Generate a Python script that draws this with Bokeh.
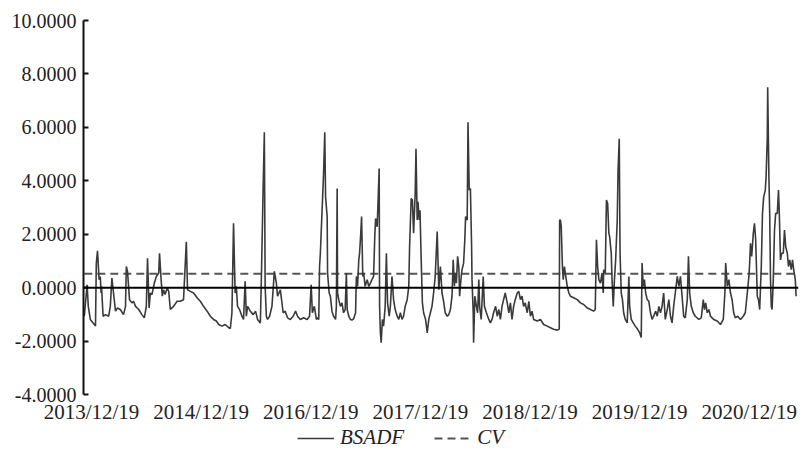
from bokeh.plotting import figure
from bokeh.layouts import column
from bokeh.models import (Range1d, Span, FixedTicker, PrintfTickFormatter, Legend, LegendItem)
from bokeh.embed import file_html
from bokeh.resources import INLINE

# observation index (trading days since 2013/12/19 window start) and BSADF statistic
obs = [0, 7, 10, 15, 28, 30, 33, 37, 40, 42, 43, 47, 53, 61, 65, 69, 73, 78, 83, 90, 98, 103, 105, 108, 113, 119,
       123, 128, 136, 144, 150, 155, 158, 162, 165, 169, 175, 180, 186, 188, 192, 195, 198, 202, 207, 211, 215, 223,
       232, 240, 248, 255, 258, 265, 273, 282, 290, 298, 307, 315, 323, 330, 336, 344, 352, 361, 365, 369, 373, 377,
       380, 383, 388, 394, 398, 402, 405, 408, 415, 422, 428, 433, 440, 443, 447, 450, 452, 455, 458, 463, 469, 475,
       480, 483, 490, 497, 502, 508, 515, 522, 528, 533, 540, 548, 557, 563, 567, 570, 575, 580, 583, 586, 588,
       590, 594, 598, 601, 603, 607, 608, 612, 615, 619, 623, 628, 630, 632, 633, 636, 640, 644, 648, 652, 655, 657,
       661, 665, 669, 673, 678, 680, 683, 686, 688, 691, 693, 696, 698, 702, 707, 711, 715, 719, 723, 726, 728, 732,
       734, 737, 738, 740, 742, 745, 748, 752, 755, 758, 762, 765, 769, 773, 777, 782, 786, 790, 794, 798, 802, 807,
       811, 813, 817, 820, 823, 827, 829, 832, 834, 837, 839, 842, 845, 848, 853, 857, 861, 865, 869, 873, 877, 882,
       886, 890, 894, 898, 902, 907, 911, 915, 919, 922, 925, 927, 930, 933, 936, 938, 942, 944, 948, 951, 953, 957,
       959, 962, 965, 968, 969, 972, 973, 976, 980, 983, 986, 988, 992, 997, 1000, 1005, 1011, 1015, 1019, 1023, 1028,
       1032, 1036, 1040, 1044, 1048, 1052, 1057, 1061, 1065, 1069, 1073, 1077, 1082, 1086, 1090, 1094, 1098, 1102,
       1107, 1111, 1115, 1119, 1123, 1132, 1140, 1148, 1157, 1165, 1173, 1182, 1187, 1188, 1190, 1192, 1195, 1197,
       1200, 1202, 1207, 1211, 1215, 1223, 1232, 1240, 1248, 1257, 1265, 1273, 1277, 1280, 1283, 1286, 1290, 1294,
       1297, 1298, 1302, 1305, 1308, 1311, 1313, 1317, 1319, 1322, 1325, 1328, 1332, 1334, 1337, 1339, 1342, 1345,
       1348, 1352, 1357, 1361, 1363, 1367, 1372, 1377, 1383, 1388, 1392, 1394, 1397, 1400, 1403, 1407, 1411, 1415,
       1419, 1423, 1428, 1432, 1436, 1440, 1444, 1448, 1452, 1457, 1461, 1465, 1469, 1473, 1477, 1482, 1486, 1490,
       1494, 1498, 1502, 1507, 1510, 1513, 1517, 1522, 1527, 1536, 1542, 1547, 1550, 1553, 1557, 1561, 1565, 1569,
       1573, 1582, 1590, 1597, 1601, 1603, 1607, 1611, 1615, 1619, 1623, 1627, 1633, 1640, 1647, 1652, 1657, 1661,
       1663, 1665, 1668, 1672, 1675, 1678, 1682, 1685, 1688, 1692, 1695, 1698, 1702, 1704, 1707, 1708, 1711, 1713,
       1715, 1717, 1719, 1722, 1725, 1728, 1732, 1735, 1737, 1740, 1743, 1747, 1750, 1753, 1757, 1760, 1763, 1767,
       1770, 1773, 1777, 1779]

bsadf = [-1.07, 0.11, -0.70, -1.19, -1.44, 0.92, 1.38, 0.30, 0.42, -0.20, 0.05, -1.07, -1.01, -1.07, -0.70, 0.36,
         -0.20, -0.88, -0.76, -0.82, -1.01, -0.70, 0.79, 0.61, -0.45, -0.57, -0.51, -0.70, -0.82, -1.01, -1.13, -0.70,
         1.10, -0.76, -0.20, -0.26, 0.17, 0.42, 0.55, 1.29, 0.30, -0.32, -0.08, -0.26, -0.01, -0.14, -0.82, -0.70,
         -0.51, -0.51, -0.45, 1.72, -0.08, -0.14, -0.20, -0.38, -0.51, -0.70, -0.88, -1.07, -1.19, -1.25, -1.38, -1.44,
         -1.38, -1.50, -1.53, -0.94, 2.41, -0.20, 0.05, -0.70, -0.82, -1.07, -1.19, 0.24, -1.07, -0.70, -0.88, -1.01,
         -0.88, -1.19, -1.32, 0.67, 3.77, 5.82, 0.05, -1.07, -1.19, -1.07, -0.70, 0.61, 0.17, -0.32, -0.08, -0.94,
         -0.88, -1.13, -1.19, -1.07, -0.88, -1.07, -1.19, -1.13, -1.19, -1.07, 0.11, -0.94, -0.70, -1.19, -1.13, -1.19,
         0.80, 1.29, 2.78, 4.27, 5.82, 3.40, 2.66, 0.55, -0.20, -0.32, -0.88, -1.07, -1.19, -0.70, 3.71, -0.20, -0.45,
         -0.70, -0.57, -0.94, -0.82, 0.55, -0.82, -1.07, -1.19, -1.21, -1.17, -0.94, 0.42, 0.05, 1.04, 1.29, 2.04, 2.66,
         0.42, 0.55, 0.05, 0.30, 0.05, 0.17, 0.30, 0.42, 1.91, 2.59, 2.28, 3.15, 4.46, -0.70, -1.69, -2.06, -1.19, -1.44,
         -0.70, 1.29, -0.57, -1.07, -0.70, 0.42, -0.45, -0.82, -1.07, -1.19, -0.94, -1.19, -1.07, -0.70, -0.45, 0.05,
         1.54, 3.34, 3.28, 2.04, 3.52, 5.20, 2.53, 3.21, 2.53, 2.90, 1.04, -0.57, -0.94, -1.19, -1.69, -1.19, -0.94,
         -0.70, -0.20, 0.42, 2.10, -0.08, 0.79, -0.20, -0.51, -0.94, -1.07, -1.01, -0.82, -0.32, 1.04, 0.05, 0.55, 0.17,
         1.17, 0.79, -0.32, 0.42, 0.67, 0.92, 1.79, 2.66, 2.53, 6.19, 3.65, 3.71, 1.54, 0.30, -0.94, -2.06, -0.32,
         -0.70, -0.94, 0.30, -0.70, -1.19, 0.42, -0.70, -0.94, -1.19, -1.32, -1.19, -0.94, -0.70, -1.07, -0.82, -1.19,
         -0.70, -0.45, -0.20, -0.57, -0.94, -0.57, -1.19, -0.70, -0.45, -0.20, -0.14, -0.45, -0.32, -0.70, -0.57,
         -0.94, -0.51, -1.07, -0.88, -1.19, -1.25, -1.19, -1.38, -1.44, -1.50, -1.56, -1.59, -1.56, 2.53, 2.53, 2.28,
         0.79, 0.30, 0.79, 0.55, 0.05, -0.20, -0.32, -0.38, -0.45, -0.57, -0.63, -0.76, -0.82, -0.88, -0.82, 1.79,
         0.79, 0.30, 0.17, 0.55, -0.20, 0.67, 0.55, 3.28, 3.15, 2.04, 1.91, 1.29, 0.30, -0.70, 0.30, 1.04, 2.53, 4.39,
         5.57, 1.29, -0.20, -0.45, -0.94, -1.19, -1.32, 0.42, -0.70, -1.19, -1.32, -1.44, -1.56, -1.69, -1.87, 0.92,
         0.05, 0.30, -0.20, -0.45, -0.51, -0.94, -1.19, -1.07, -0.88, -1.07, -0.70, -0.94, -0.70, -0.20, -1.19, -0.82,
         -0.45, -1.07, -1.32, -0.70, -0.20, 0.42, 0.05, 0.42, -0.32, -1.07, -1.13, -0.45, 1.17, -0.20, -0.70, -0.94,
         -1.07, -1.19, -1.13, -0.45, -0.82, -0.57, -0.94, -0.82, -1.07, -1.13, -1.19, -1.25, -1.38, -1.19, -0.20,
         0.92, 0.05, 0.30, -0.20, -0.45, -0.94, -1.13, -1.07, -1.19, -1.07, -0.94, -0.20, 0.42, 0.92, 1.66, 1.17,
         2.03, 2.41, 1.79, -0.32, -0.45, -0.82, 0.79, 2.78, 3.40, 3.65, 4.15, 5.63, 7.50, 4.15, 2.78, 0.30, -0.70,
         -0.82, 0.30, 2.16, 2.78, 2.78, 3.65, 2.78, 1.04, 1.29, 1.29, 2.16, 1.54, 1.29, 0.79, 1.04, 0.67, 1.04, 0.67,
         0.30, -0.32]

cv_value = 0.52

tick_obs = [18, 292, 566, 840, 1114, 1388, 1662]
tick_labels = ["2013/12/19", "2014/12/19", "2016/12/19", "2017/12/19",
               "2018/12/19", "2019/12/19", "2020/12/19"]
y_ticks = [-4, -2, 0, 2, 4, 6, 8, 10]
series_names = ["BSADF", "CV"]

FONT = "Liberation Serif"
W = 805

p = figure(width=W, height=426, output_backend="svg", toolbar_location=None,
           x_range=Range1d(-2, 1785), y_range=Range1d(-4, 10),
           min_border_left=83, min_border_right=7, min_border_top=20, min_border_bottom=30)
p.outline_line_color = None
p.grid.visible = False
p.background_fill_color = "white"

# y axis
p.yaxis.ticker = FixedTicker(ticks=y_ticks)
p.yaxis.formatter = PrintfTickFormatter(format="%.4f")
p.yaxis.axis_line_color = "#111111"
p.yaxis.axis_line_width = 2
p.yaxis.major_tick_in = 5
p.yaxis.major_tick_out = 0
p.yaxis.major_tick_line_width = 2
p.yaxis.major_tick_line_color = "#111111"
p.yaxis.minor_tick_line_color = None
p.yaxis.major_label_standoff = 7
p.yaxis.major_label_text_font = FONT
p.yaxis.major_label_text_font_size = "20px"
p.yaxis.major_label_text_color = "#222222"

# x axis
p.xaxis.ticker = FixedTicker(ticks=tick_obs)
p.xaxis.major_label_overrides = {t: l for t, l in zip(tick_obs, tick_labels)}
p.xaxis.axis_line_color = None
p.xaxis.major_tick_line_color = None
p.xaxis.major_tick_in = 0
p.xaxis.major_tick_out = 0
p.xaxis.minor_tick_line_color = None
p.xaxis.major_label_standoff = 5
p.xaxis.major_label_text_font = FONT
p.xaxis.major_label_text_font_size = "21px"
p.xaxis.major_label_text_color = "#222222"

zero = Span(location=0, dimension="width", line_color="#000000", line_width=2)
p.add_layout(zero)

CV_STYLE = dict(line_color="#555555", line_width=2.2, line_dash="8 5")
BS_STYLE = dict(line_color="#3a3a3a", line_width=1.6)

p.line([obs[0], obs[-1] + 5], [cv_value, cv_value], **CV_STYLE)
p.line(obs, bsadf, **BS_STYLE)

# legend strip below the chart (legend-only renderers carry no visible data)
nan = float("nan")
lf = figure(width=W, height=26, output_backend="svg", toolbar_location=None,
            x_range=Range1d(0, 1), y_range=Range1d(0, 1),
            min_border_left=0, min_border_right=0, min_border_top=0, min_border_bottom=0)
lf.axis.visible = False
lf.grid.visible = False
lf.outline_line_color = None
l_bs = lf.line([nan, nan], [nan, nan], **BS_STYLE)
l_cv = lf.line([nan, nan], [nan, nan], **CV_STYLE)
legend = Legend(items=[LegendItem(label=series_names[0], renderers=[l_bs]),
                       LegendItem(label=series_names[1], renderers=[l_cv])],
                orientation="horizontal", location=(214, 2),
                label_text_font=FONT, label_text_font_style="italic",
                label_text_font_size="21px", label_text_color="#222222",
                glyph_width=37, glyph_height=18, label_standoff=6, spacing=30,
                padding=0, margin=0, border_line_color=None, background_fill_alpha=0)
lf.add_layout(legend)

layout = column(p, lf, spacing=0)
open("out.html", "w").write(file_html(layout, INLINE))
